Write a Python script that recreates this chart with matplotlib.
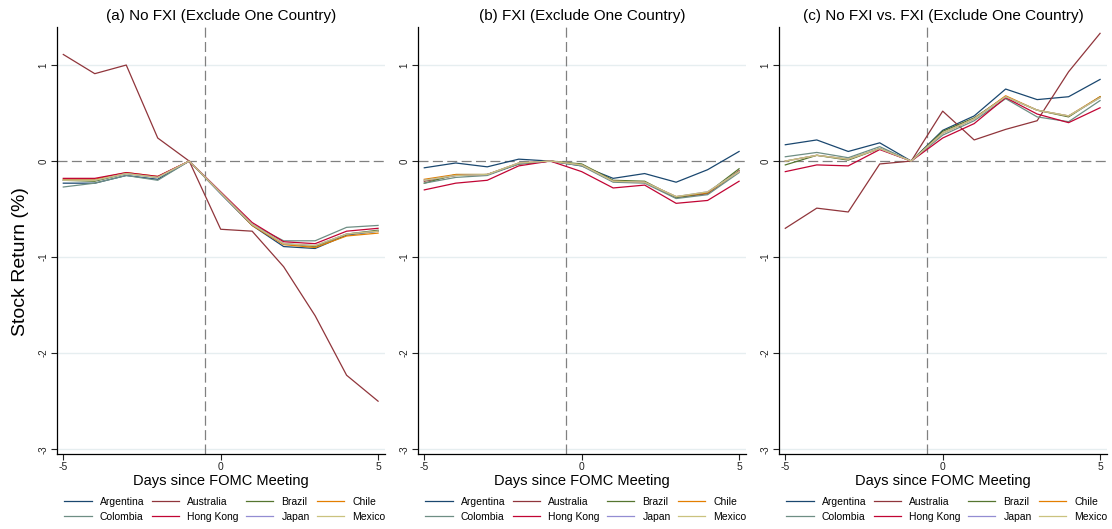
import numpy as np
import matplotlib.pyplot as plt

plt.rcParams['font.family'] = ['Liberation Sans', 'DejaVu Sans']

days = np.arange(-5, 6)
countries = ["Argentina", "Australia", "Brazil", "Chile",
             "Colombia", "Hong Kong", "Japan", "Mexico"]
colors = ["#1a476f", "#90353b", "#55752f", "#e37e00",
          "#6e8e84", "#c10534", "#938dd2", "#cac27e"]

# (a) No FXI
no_fxi = {
    "Argentina": [-0.23, -0.23, -0.15, -0.19, 0, -0.34, -0.67, -0.89, -0.91, -0.77, -0.73],
    "Australia": [1.11, 0.91, 1.00, 0.24, 0, -0.71, -0.73, -1.10, -1.61, -2.23, -2.50],
    "Brazil":    [-0.20, -0.21, -0.13, -0.17, 0, -0.33, -0.66, -0.86, -0.89, -0.76, -0.72],
    "Chile":     [-0.19, -0.19, -0.12, -0.16, 0, -0.33, -0.67, -0.87, -0.90, -0.78, -0.75],
    "Colombia":  [-0.27, -0.23, -0.15, -0.20, 0, -0.33, -0.66, -0.83, -0.83, -0.69, -0.67],
    "Hong Kong": [-0.18, -0.18, -0.12, -0.16, 0, -0.32, -0.64, -0.84, -0.86, -0.73, -0.70],
    "Japan":     [-0.20, -0.20, -0.13, -0.17, 0, -0.33, -0.66, -0.86, -0.88, -0.76, -0.73],
    "Mexico":    [-0.20, -0.20, -0.13, -0.17, 0, -0.33, -0.66, -0.86, -0.88, -0.76, -0.73],
}

# (b) FXI
fxi = {
    "Argentina": [-0.07, -0.02, -0.06, 0.02, 0, -0.05, -0.18, -0.13, -0.22, -0.09, 0.10],
    "Australia": [-0.21, -0.15, -0.14, -0.03, 0, -0.04, -0.21, -0.22, -0.38, -0.34, -0.10],
    "Brazil":    [-0.23, -0.14, -0.14, -0.03, 0, -0.03, -0.20, -0.21, -0.38, -0.33, -0.08],
    "Chile":     [-0.19, -0.14, -0.14, -0.02, 0, -0.04, -0.21, -0.22, -0.37, -0.33, -0.11],
    "Colombia":  [-0.23, -0.17, -0.15, -0.03, 0, -0.05, -0.22, -0.23, -0.39, -0.35, -0.12],
    "Hong Kong": [-0.30, -0.23, -0.20, -0.05, 0, -0.11, -0.28, -0.25, -0.44, -0.41, -0.21],
    "Japan":     [-0.20, -0.15, -0.14, -0.02, 0, -0.04, -0.21, -0.22, -0.37, -0.32, -0.11],
    "Mexico":    [-0.20, -0.15, -0.14, -0.02, 0, -0.04, -0.21, -0.22, -0.37, -0.32, -0.11],
}

# (c) No FXI vs. FXI
diff = {
    "Argentina": [0.17, 0.22, 0.10, 0.19, 0, 0.32, 0.47, 0.75, 0.64, 0.67, 0.85],
    "Australia": [-0.70, -0.49, -0.53, -0.03, 0, 0.52, 0.22, 0.33, 0.42, 0.93, 1.33],
    "Brazil":    [-0.04, 0.06, 0.01, 0.13, 0, 0.31, 0.45, 0.67, 0.53, 0.46, 0.67],
    "Chile":     [0.00, 0.06, 0.02, 0.13, 0, 0.29, 0.44, 0.68, 0.53, 0.47, 0.67],
    "Colombia":  [0.045, 0.09, 0.035, 0.15, 0, 0.27, 0.42, 0.65, 0.46, 0.41, 0.63],
    "Hong Kong": [-0.11, -0.04, -0.05, 0.12, 0, 0.24, 0.39, 0.66, 0.49, 0.40, 0.555],
    "Japan":     [0.00, 0.06, 0.02, 0.13, 0, 0.29, 0.44, 0.67, 0.53, 0.47, 0.66],
    "Mexico":    [0.00, 0.06, 0.02, 0.13, 0, 0.29, 0.44, 0.67, 0.53, 0.47, 0.66],
}

titles = ["(a) No FXI (Exclude One Country)",
          "(b) FXI (Exclude One Country)",
          "(c) No FXI vs. FXI (Exclude One Country)"]
yticks = [-3, -2, -1, 0, 1]
ytick_labels = ["-3", "-2", "-1", "0", "1"]
xticks = [-5, 0, 5]
xtick_labels = ["-5", "0", "5"]

fig = plt.figure(figsize=(11.12, 5.29), dpi=100)
W, H = 1112, 529
lefts = [57, 418, 779]
aw = 328
top, bot = 27, 454

# legend fills column by column; reorder so it reads across rows
order = [0, 4, 1, 5, 2, 6, 3, 7]

for left, title, data in zip(lefts, titles, [no_fxi, fxi, diff]):
    ax = fig.add_axes([left / W, 1 - bot / H, aw / W, (bot - top) / H])
    for y in [1, -1, -2, -3]:
        ax.axhline(y, color="#e6eef0", lw=1.0, zorder=0)
    ax.axhline(0, color="#808080", lw=0.9, ls=(0, (8, 3.5)), zorder=1)
    ax.axvline(-0.5, color="#808080", lw=0.9, ls=(0, (8, 3.5)), zorder=1)
    lines = []
    for c, col in zip(countries, colors):
        ln, = ax.plot(days, data[c], color=col, lw=0.9, label=c, zorder=2)
        lines.append(ln)
    ax.set_xlim(-5.2, 5.22)
    ax.set_ylim(-3.05, 1.396)
    ax.set_yticks(yticks)
    ax.set_yticklabels(ytick_labels, rotation=90, va="center", fontsize=7)
    ax.set_xticks(xticks)
    ax.set_xticklabels(xtick_labels, fontsize=7.5)
    ax.tick_params(length=4, width=0.8, pad=2, colors="#222222")
    for s in ["top", "right"]:
        ax.spines[s].set_visible(False)
    for s in ["left", "bottom"]:
        ax.spines[s].set_linewidth(0.9)
    ax.set_title(title, fontsize=11, pad=5)
    ax.set_xlabel("Days since FOMC Meeting", fontsize=10.5, labelpad=1)
    ax.legend([lines[i] for i in order], [countries[i] for i in order],
              loc="upper center", bbox_to_anchor=(0.512, -0.078), ncol=4,
              frameon=False, fontsize=7.5, handlelength=2.6,
              handletextpad=0.8, columnspacing=0.7, labelspacing=0.5)

fig.text(21 / W, 1 - 262 / H, "Stock Return (%)", rotation=90,
         ha="center", va="center", fontsize=14)

fig.savefig("out.png", dpi=100)
